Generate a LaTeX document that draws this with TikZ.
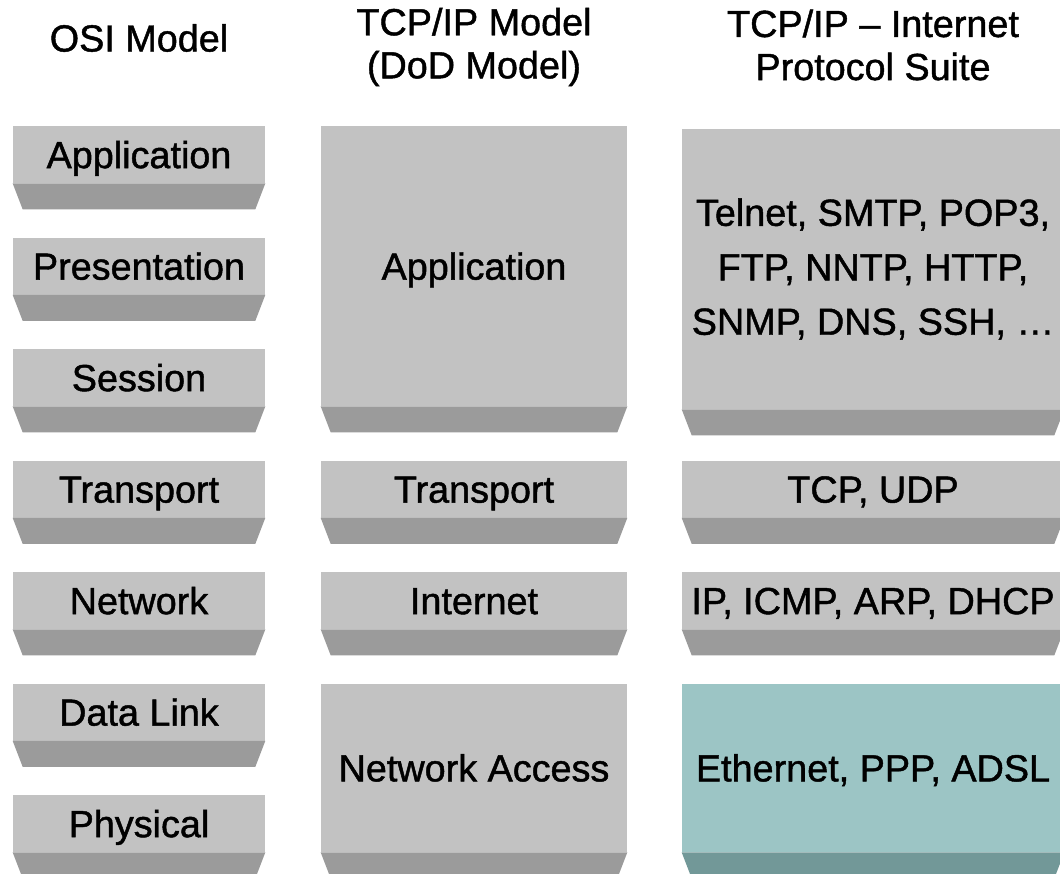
\documentclass[tikz,border=0pt]{standalone}
\usepackage{fontspec}
\setmainfont{Liberation Sans}[FakeBold=1.2]
\definecolor{facegray}{HTML}{C2C2C2}
\definecolor{bevelgray}{HTML}{9B9B9B}
\definecolor{faceteal}{HTML}{9CC5C5}
\definecolor{bevelteal}{HTML}{729898}
\tikzset{
  layer/.style={fill=facegray,inner sep=0pt,text height=15.5pt,text depth=0pt,align=center},
  bevel/.style={fill=bevelgray},
  osi/.style={layer,minimum width=5.04cm,minimum height=1.14cm},
  dod/.style={layer,minimum width=6.12cm,minimum height=1.14cm},
  suite/.style={layer,minimum width=7.64cm,minimum height=1.14cm},
  head/.style={inner sep=0pt,align=center}
}
\begin{document}
\begin{tikzpicture}[x=0.02cm,y=-0.02cm,font=\fontsize{21.5}{24.5}\selectfont]
	\clip (0,0) rectangle (1060,873);
	\fill[white] (0,0) rectangle (1060,873);

	% column headings
	\begin{scope}[every node/.style={head}]
		\node (H1) at (139,38) {OSI Model};
		\node (H2) at (474,47) {TCP/IP Model\\(DoD Model)};
		\node (H3) at (873,45) {TCP/IP -- Internet\\Protocol Suite};
	\end{scope}

	% OSI layers
	\begin{scope}[every node/.style={osi}]
		\node (O1) at (139,154.5) {Application};
		\node (O2) at (139,266) {Presentation};
		\node (O3) at (139,377.5) {Session};
		\node (O4) at (139,489) {Transport};
		\node (O5) at (139,600.5) {Network};
		\node (O6) at (139,712) {Data Link};
		\node (O7) at (139,823.5) {Physical};
	\end{scope}

	% DoD layers
	\begin{scope}[every node/.style={dod}]
		\node[minimum height=5.6cm] (D1) at (474,266) {Application};
		\node (D2) at (474,489) {Transport};
		\node (D3) at (474,600.5) {Internet};
		\node[minimum height=3.37cm] (D4) at (474,767.75) {Network Access};
	\end{scope}

	% protocols
	\begin{scope}[every node/.style={suite}]
		\node[minimum height=5.6cm,text height={},text depth={},
			font=\fontsize{21.5}{31}\selectfont] (S1) at (873,269)
			{Telnet, SMTP, POP3,\\FTP, NNTP, HTTP,\\SNMP, DNS, SSH, \ldots};
		\node (S2) at (873,489) {TCP, UDP};
		\node (S3) at (873,600.5) {IP, ICMP, ARP, DHCP};
		\node[minimum height=3.37cm,fill=faceteal] (S4) at (873,767.75) {Ethernet, PPP, ADSL};
	\end{scope}

	% bevelled lower edges
	\foreach \n in {O1,O2,O3,O4,O5,O6,O7,D1,D2,D3,D4,S1,S2,S3}
		\fill[bevel] (\n.south west) -- ++(10,26) -- ([shift={(-10,26)}]\n.south east) -- (\n.south east) -- cycle;
	\fill[bevel,fill=bevelteal] (S4.south west) -- ++(10,26) -- ([shift={(-10,26)}]S4.south east) -- (S4.south east) -- cycle;
\end{tikzpicture}
\end{document}
